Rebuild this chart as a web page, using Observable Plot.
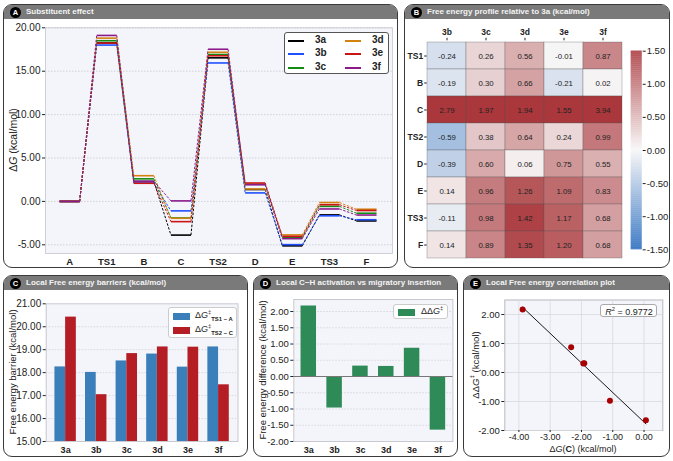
<!DOCTYPE html>
<html>
<head>
<meta charset="utf-8">
<script src="https://cdn.jsdelivr.net/npm/d3@7"></script>
<script src="https://cdn.jsdelivr.net/npm/@observablehq/plot@0.6"></script>
<style>
  body { margin: 0; background: #fff; font-family: "Liberation Sans", Arial, sans-serif; }
  #fig { position: relative; width: 673px; height: 461px; overflow: hidden; background: #fff; }
  .panel { position: absolute; border: 1.5px solid #3a3a3a; border-radius: 9px; box-sizing: border-box; }
  .head { position: absolute; left: 0; top: 0; right: 0; height: 14px; background: #7a7a7a;
          border-radius: 7px 7px 0 0; color: #f4f4f4; font-weight: bold; font-size: 8px;
          line-height: 14px; padding-left: 22px; white-space: nowrap; }
  .badge { position: absolute; left: 6px; top: 1.5px; width: 11px; height: 11px; border-radius: 50%;
           background: #000; color: #fff; font-size: 7.5px; line-height: 11px; text-align: center; padding: 0; }
  .layer { position: absolute; left: 0; top: 0; }
  .lbl { position: absolute; color: #222; white-space: nowrap; }
  .rot { transform: translate(-50%, -50%) rotate(-90deg); }
  .ctr { transform: translate(-50%, -50%); }
  .legend { position: absolute; background: #fff; box-sizing: border-box; }
  .sw { position: absolute; }
  sup, sub { font-size: 65%; line-height: 0; }
</style>
</head>
<body>
<div id="fig"></div>
<script>
// ---- data -------------------------------------------------------------
const states = ["A", "TS1", "B", "C", "TS2", "D", "E", "TS3", "F"];
const series = ["3a", "3b", "3c", "3d", "3e", "3f"];
const seriesColors = ["#000000", "#1f4fff", "#138a13", "#d4820f", "#cc1414", "#8b1a8b"];

// free-energy profile of the reference substrate 3a (kcal/mol)
const profile3a = [0.00, 18.25, 2.30, -3.88, 16.54, 1.37, -5.12, -1.55, -2.25];

// energies relative to 3a for the states after A
const heatRows = ["TS1", "B", "C", "TS2", "D", "E", "TS3", "F"];
const rel3b = [-0.24, -0.19, 2.79, -0.59, -0.39, 0.14, -0.11, 0.14];
const rel3c = [0.26, 0.30, 1.97, 0.38, 0.60, 0.96, 0.98, 0.89];
const rel3d = [0.56, 0.66, 1.94, 0.64, 0.06, 1.26, 1.42, 1.35];
const rel3e = [-0.01, -0.21, 1.55, 0.24, 0.75, 1.09, 1.17, 1.20];
const rel3f = [0.87, 0.02, 3.94, 0.99, 0.55, 0.83, 0.68, 0.68];
const relTables = [rel3b, rel3c, rel3d, rel3e, rel3f];

const r2Label = "0.9772";

// ---- derived tables ---------------------------------------------------
const profiles = [profile3a].concat(relTables.map(rel =>
  profile3a.map((v, i) => i === 0 ? v : +(v + rel[i - 1]).toFixed(2))));

const iTS1 = states.indexOf("TS1"), iA = states.indexOf("A");
const iTS2 = states.indexOf("TS2"), iC = states.indexOf("C");
const barriers = series.map((s, k) => {
  const p = profiles[k];
  const ts1A = p[iTS1] - p[iA];
  const ts2C = p[iTS2] - p[iC];
  return { s, i: k, ts1A, ts2C, ddg: ts2C - ts1A, gC: p[iC] };
});

const levels = [], connectors = [];
series.forEach((s, k) => profiles[k].forEach((v, i) => {
  levels.push({ s, i, v });
  if (i < states.length - 1) connectors.push({ s, i, v, w: profiles[k][i + 1] });
}));

const heat = [];
heatRows.forEach((r, j) => relTables.forEach((t, k) => heat.push({ row: r, col: series[k + 1], v: t[j] })));

// ---- helpers ----------------------------------------------------------
const fig = document.getElementById("fig");
const W = 673, H = 461;
const font = "Liberation Sans, Arial, sans-serif";
const baseStyle = { background: "transparent", fontFamily: font, fontSize: "10px", color: "#222", overflow: "visible" };
const f2 = d3.format(".2f");
const fmt = d => f2(d).replace("−", "-");
const plotBg = "#f4f4fb";

function add(el) { el.classList.add("layer"); fig.appendChild(el); }
function box(left, top, right, bottom) {
  return { width: W, height: H, marginLeft: left, marginRight: W - right, marginTop: top, marginBottom: H - bottom, style: baseStyle };
}
function html(s) { fig.insertAdjacentHTML("beforeend", s); }
function panel(x, y, w, h, letter, title) {
  html(`<div class="panel" style="left:${x}px;top:${y}px;width:${w}px;height:${h}px">
          <div class="head"><div class="badge">${letter}</div>${title}</div></div>`);
}

// panel frames
panel(3, 4, 395, 264, "A", "Substituent effect");
panel(404, 4, 266, 264, "B", "Free energy profile relative to 3a (kcal/mol)");
panel(3, 275, 245, 182, "C", "Local Free energy barriers (kcal/mol)");
panel(253, 275, 205, 182, "D", "Local C\u2212H activation vs migratory insertion");
panel(463, 275, 207, 182, "E", "Local Free energy correlation plot");

const colorScale = { domain: series, range: seriesColors };

// ---- A: energy profile -------------------------------------------------
const hw = 0.27;
add(Plot.plot({
  ...box(45, 27.3, 392, 253),
  x: { domain: [-0.65, 8.7], axis: null },
  y: { domain: [-6, 20], axis: null },
  color: colorScale,
  marks: [
    Plot.frame({ fill: plotBg, stroke: "#d0d0d8" }),
    Plot.gridY([-5, 0, 5, 10, 15, 20], { stroke: "#b8b8c0", strokeOpacity: 1, strokeDasharray: "1.5,1.5", strokeWidth: 0.6 }),
    Plot.axisY({ ticks: [-5, 0, 5, 10, 15, 20], tickFormat: fmt, tickSize: 3, tickPadding: 2, fontSize: 10, label: null }),
    Plot.axisX({ ticks: d3.range(states.length), tickFormat: i => states[i], tickSize: 0, tickPadding: 5, fontWeight: "bold", fontSize: 9.5, label: null }),
    Plot.link(connectors, { x1: d => d.i + hw, x2: d => d.i + 1 - hw, y1: "v", y2: "w", stroke: "s", strokeWidth: 1, strokeDasharray: "2.5,1.5" }),
    Plot.link(levels, { x1: d => d.i - hw, x2: d => d.i + hw, y1: "v", y2: "v", stroke: "s", strokeWidth: 1.6 })
  ]
}));
html(`<div class="lbl rot" style="left:13px;top:140px;font-size:10.5px">Δ<i>G</i> (kcal/mol)</div>`);
{
  let s = `<div class="legend" style="left:284px;top:32px;width:105px;height:42px;border:1px solid #555;border-radius:3px">`;
  series.forEach((name, k) => {
    const col = Math.floor(k / 3), row = k % 3;
    const x0 = col === 0 ? 3 : 60, y0 = 7 + row * 13.3;
    s += `<div class="sw" style="left:${x0}px;top:${y0}px;width:16px;border-top:2px solid ${seriesColors[k]}"></div>`;
    s += `<div class="lbl" style="left:${x0 + 27}px;top:${y0 - 6}px;font-size:10px;font-weight:bold">${name}</div>`;
  });
  html(s + `</div>`);
}

// ---- B: heatmap relative to 3a -----------------------------------------
const vlag = d3.piecewise(d3.interpolateRgb, ["#2369bd", "#f7f6f6", "#a9373b"]);
const heatColor = { type: "linear", domain: [-1.5, 1.5], interpolate: vlag, clamp: true };
add(Plot.plot({
  ...box(426.7, 39.3, 621.7, 260),
  x: { domain: series.slice(1), padding: 0, axis: null },
  y: { domain: heatRows, padding: 0, axis: null },
  color: heatColor,
  marks: [
    Plot.cell(heat, { x: "col", y: "row", fill: "v", inset: 0, stroke: "#555", strokeOpacity: 0.45, strokeWidth: 0.7 }),
    Plot.text(heat, { x: "col", y: "row", text: d => d.v.toFixed(2), fontSize: 7.8, fill: "#222" }),
    Plot.axisX({ anchor: "top", tickSize: 2.5, tickPadding: 2, fontWeight: "bold", fontSize: 8.5, label: null }),
    Plot.axisY({ tickSize: 2.5, tickPadding: 1.5, fontWeight: "bold", fontSize: 8.5, label: null })
  ]
}));
const cbStops = d3.range(-1.5, 1.5, 0.01);
add(Plot.plot({
  ...box(630.7, 50.7, 641.7, 249.3),
  y: { domain: [-1.5, 1.5], axis: null },
  color: heatColor,
  marks: [
    Plot.rect(cbStops, { y1: d => d, y2: d => d + 0.012, fill: d => d }),
    Plot.axisY({ anchor: "right", ticks: [-1.5, -1, -0.5, 0, 0.5, 1, 1.5], tickFormat: fmt, tickSize: 3, tickPadding: 1.5, fontSize: 9.5, label: null })
  ]
}));

// ---- C: barrier bars ---------------------------------------------------
const blueBar = "#3a7fba", redBar = "#b41d24";
add(Plot.plot({
  ...box(45.7, 303.3, 237.5, 441),
  x: { domain: [-0.635, 5.635], axis: null },
  y: { domain: [15, 21], axis: null },
  marks: [
    Plot.frame({ fill: plotBg, stroke: "#c8c8d0" }),
    Plot.gridY([16, 17, 18, 19, 20], { stroke: "#c4c4cc", strokeOpacity: 1, strokeDasharray: "1.5,1.5", strokeWidth: 0.6 }),
    Plot.rectY(barriers, { x1: d => d.i - 0.35, x2: d => d.i, y: "ts1A", fill: blueBar, clip: true }),
    Plot.rectY(barriers, { x1: d => d.i, x2: d => d.i + 0.35, y: "ts2C", fill: redBar, clip: true }),
    Plot.axisY({ ticks: d3.range(15, 22), tickFormat: fmt, tickSize: 3, tickPadding: 2, fontSize: 10, label: null }),
    Plot.axisX({ ticks: d3.range(series.length), tickFormat: i => series[i], tickSize: 0, tickPadding: 5, fontWeight: "bold", fontSize: 9, label: null })
  ]
}));
html(`<div class="lbl rot" style="left:12px;top:372px;font-size:9.5px">Free energy barrier (kcal/mol)</div>`);
html(`<div class="legend" style="left:168px;top:307px;width:69px;height:31px;border:1px solid #ccc;border-radius:3px">
  <div class="sw" style="left:4px;top:5px;width:17px;height:7px;background:${blueBar}"></div>
  <div class="lbl" style="left:26px;top:2px;font-size:9px">Δ<i>G</i><sup>‡</sup><sub><b>TS1 − A</b></sub></div>
  <div class="sw" style="left:4px;top:19px;width:17px;height:7px;background:${redBar}"></div>
  <div class="lbl" style="left:26px;top:16px;font-size:9px">Δ<i>G</i><sup>‡</sup><sub><b>TS2 − C</b></sub></div>
</div>`);

// ---- D: barrier difference ---------------------------------------------
const green = "#2e8b57";
add(Plot.plot({
  ...box(293.3, 299, 452.4, 441),
  x: { domain: [-0.58, 5.58], axis: null },
  y: { domain: [-2, 2.37], axis: null },
  marks: [
    Plot.frame({ fill: plotBg, stroke: "#c8c8d0" }),
    Plot.gridY(d3.range(-1.5, 2.01, 0.5), { stroke: "#c4c4cc", strokeOpacity: 1, strokeDasharray: "1.5,1.5", strokeWidth: 0.6 }),
    Plot.rectY(barriers, { x1: d => d.i - 0.3, x2: d => d.i + 0.3, y: "ddg", fill: green }),
    Plot.ruleY([0], { stroke: "#777", strokeWidth: 1 }),
    Plot.axisY({ ticks: d3.range(-2, 2.01, 0.5), tickFormat: fmt, tickSize: 3, tickPadding: 2, fontSize: 9.5, label: null }),
    Plot.axisX({ ticks: d3.range(series.length), tickFormat: i => series[i], tickSize: 0, tickPadding: 5, fontWeight: "bold", fontSize: 9, label: null })
  ]
}));
html(`<div class="lbl rot" style="left:262px;top:370px;font-size:9.5px">Free energy difference (kcal/mol)</div>`);
html(`<div class="legend" style="left:393px;top:304px;width:55px;height:15px;border:1px solid #ccc;border-radius:3px">
  <div class="sw" style="left:4px;top:3.5px;width:17px;height:7px;background:${green}"></div>
  <div class="lbl" style="left:27px;top:1px;font-size:9px">ΔΔ<i>G</i><sup>‡</sup></div>
</div>`);

// ---- E: correlation ----------------------------------------------------
add(Plot.plot({
  ...box(504.3, 299.5, 662.3, 430),
  x: { domain: [-4.45, 0.6], axis: null },
  y: { domain: [-2, 2.5], axis: null },
  marks: [
    Plot.frame({ fill: plotBg, stroke: "#b8b8c0" }),
    Plot.gridX([-4, -3, -2, -1, 0], { stroke: "#d8d8e0", strokeOpacity: 1, strokeWidth: 0.8 }),
    Plot.gridY([-2, -1, 0, 1, 2], { stroke: "#d8d8e0", strokeOpacity: 1, strokeWidth: 0.8 }),
    Plot.linearRegressionY(barriers, { x: "gC", y: "ddg", stroke: "#000", strokeWidth: 0.9, ci: 0 }),
    Plot.dot(barriers, { x: "gC", y: "ddg", r: 3, fill: "#a80000" }),
    Plot.axisY({ ticks: [-2, -1, 0, 1, 2], tickFormat: fmt, tickSize: 3, tickPadding: 2, fontSize: 9.5, label: null }),
    Plot.axisX({ ticks: [-4, -3, -2, -1, 0], tickFormat: fmt, tickSize: 2, tickPadding: 1, fontSize: 9, label: null })
  ]
}));
html(`<div class="lbl rot" style="left:475px;top:365px;font-size:9.5px">ΔΔ<i>G</i><sup>‡</sup> (kcal/mol)</div>`);
html(`<div class="lbl ctr" style="left:583px;top:449px;font-size:9px">Δ<i>G</i>(<b>C</b>) (kcal/mol)</div>`);
html(`<div class="legend" style="left:600px;top:304px;width:57px;height:13px;border:1px solid #aaa;border-radius:3px">
  <div class="lbl ctr" style="left:28px;top:6.5px;font-size:9px"><i>R</i><sup>2</sup> = ${r2Label}</div>
</div>`);
</script>
</body>
</html>
